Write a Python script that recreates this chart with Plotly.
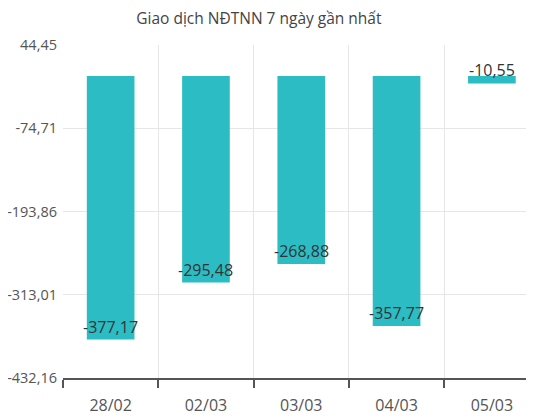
import plotly.graph_objects as go

categories = ["28/02", "02/03", "03/03", "04/03", "05/03"]
values = [-377.17, -295.48, -268.88, -357.77, -10.55]
tick_vals = [44.45, -74.71, -193.86, -313.01, -432.16]
tick_text = ["44,45", "-74,71", "-193,86", "-313,01", "-432,16"]
value_labels = ["-377,17", "-295,48", "-268,88", "-357,77", "-10,55"]

FONT = "Open Sans"

fig = go.Figure()
fig.add_trace(go.Bar(
    x=categories, y=values,
    marker=dict(color="#2cbcc3", line=dict(width=0)),
    width=0.5,
    hoverinfo="skip",
))

for c, v, t in zip(categories, values, value_labels):
    fig.add_annotation(x=c, y=v, text=t, showarrow=False, yshift=13,
                       font=dict(family=FONT, size=16, color="#333333"))

fig.update_layout(
    width=526, height=411,
    margin=dict(l=55, r=0, t=37, b=41, autoexpand=False),
    plot_bgcolor="white", paper_bgcolor="white",
    title=dict(text="Giao dịch NĐTNN 7 ngày gần nhất", x=0.477, xanchor="center",
               y=0.974, yanchor="middle",
               font=dict(family=FONT, size=15.5, color="#444444")),
    showlegend=False,
    bargap=0.5,
)
fig.update_yaxes(range=[-432.16, 44.45], tickvals=tick_vals, ticktext=tick_text,
                 showgrid=True, gridcolor="#e6e6e6", gridwidth=1,
                 zeroline=False, showline=False,
                 tickfont=dict(family=FONT, size=14.5, color="#555555"),
                 ticks="", ticklabelstandoff=5)
fig.update_xaxes(range=[-0.5, 4.442], showgrid=True, gridcolor="#e6e6e6",
                 tickson="boundaries",
                 ticks="outside", ticklen=8, tickcolor="#555555", tickwidth=1.5,
                 showline=True, linecolor="#555555", linewidth=1.5,
                 ticklabelstandoff=12,
                 tickfont=dict(family=FONT, size=16, color="#555555"))

fig.write_html("out.html")
